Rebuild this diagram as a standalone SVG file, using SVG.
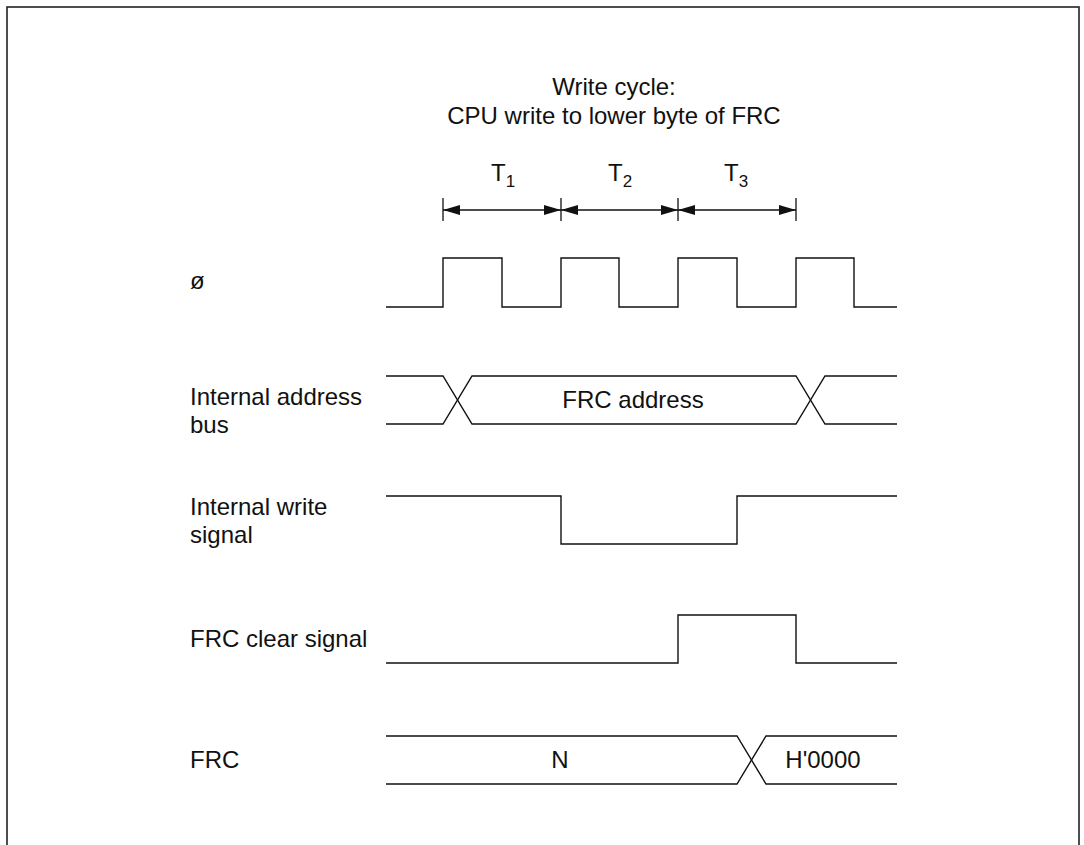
<svg xmlns="http://www.w3.org/2000/svg" width="1084" height="845" viewBox="0 0 1084 845">
<style>
.t{font-family:"Liberation Sans",Arial,sans-serif;font-size:24px;fill:#111}
.s{font-family:"Liberation Sans",Arial,sans-serif;font-size:17px;fill:#111}
.w{fill:none;stroke:#111;stroke-width:1.4;stroke-linejoin:miter}
.d{fill:none;stroke:#111;stroke-width:1.3}
</style>
<defs>
<marker id="ah" markerUnits="userSpaceOnUse" markerWidth="18" markerHeight="11" refX="17" refY="5" orient="auto-start-reverse">
<path d="M0,0 L17,5 L0,10 z" fill="#111"/>
</marker>
</defs>
<rect x="7" y="7" width="1072" height="860" fill="#fff" stroke="#222" stroke-width="1.6"/>
<g id="title">
<text class="t" x="614" y="95" text-anchor="middle">Write cycle:</text>
<text class="t" x="614" y="124" text-anchor="middle">CPU write to lower byte of FRC</text>
</g>
<g id="periods">
<text class="t" x="491" y="181">T<tspan class="s" dy="6">1</tspan></text>
<text class="t" x="608" y="181">T<tspan class="s" dy="6">2</tspan></text>
<text class="t" x="724" y="181">T<tspan class="s" dy="6">3</tspan></text>
</g>
<g id="connectors">
<line class="d" x1="443" y1="198" x2="443" y2="221"/>
<line class="d" x1="561" y1="198" x2="561" y2="221"/>
<line class="d" x1="678" y1="198" x2="678" y2="221"/>
<line class="d" x1="796" y1="198" x2="796" y2="221"/>
<line class="d" x1="443" y1="210" x2="561" y2="210" marker-start="url(#ah)" marker-end="url(#ah)"/>
<line class="d" x1="561" y1="210" x2="678" y2="210" marker-start="url(#ah)" marker-end="url(#ah)"/>
<line class="d" x1="678" y1="210" x2="796" y2="210" marker-start="url(#ah)" marker-end="url(#ah)"/>
</g>
<g id="clock">
<text class="t" x="190" y="289">ø</text>
<path class="w" d="M386,307 H443 V258 H502 V307 H561 V258 H619 V307 H678 V258 H737 V307 H796 V258 H854 V307 H897"/>
</g>
<g id="address-bus">
<text class="t" x="190" y="405">Internal address</text>
<text class="t" x="190" y="433">bus</text>
<path class="w" d="M386,376 H443 L472,424 H796 L825,376 H897"/>
<path class="w" d="M386,424 H443 L472,376 H796 L825,424 H897"/>
<text class="t" x="633" y="408" text-anchor="middle">FRC address</text>
</g>
<g id="write-signal">
<text class="t" x="190" y="515">Internal write</text>
<text class="t" x="190" y="543">signal</text>
<path class="w" d="M386,496 H561 V544 H737 V496 H897"/>
</g>
<g id="clear-signal">
<text class="t" x="190" y="647">FRC clear signal</text>
<path class="w" d="M386,663 H678 V615 H796 V663 H897"/>
</g>
<g id="frc">
<text class="t" x="190" y="768">FRC</text>
<path class="w" d="M386,736 H737 L766,784 H897"/>
<path class="w" d="M386,784 H737 L766,736 H897"/>
<text class="t" x="560" y="768" text-anchor="middle">N</text>
<text class="t" x="823" y="768" text-anchor="middle">H'0000</text>
</g>
</svg>
